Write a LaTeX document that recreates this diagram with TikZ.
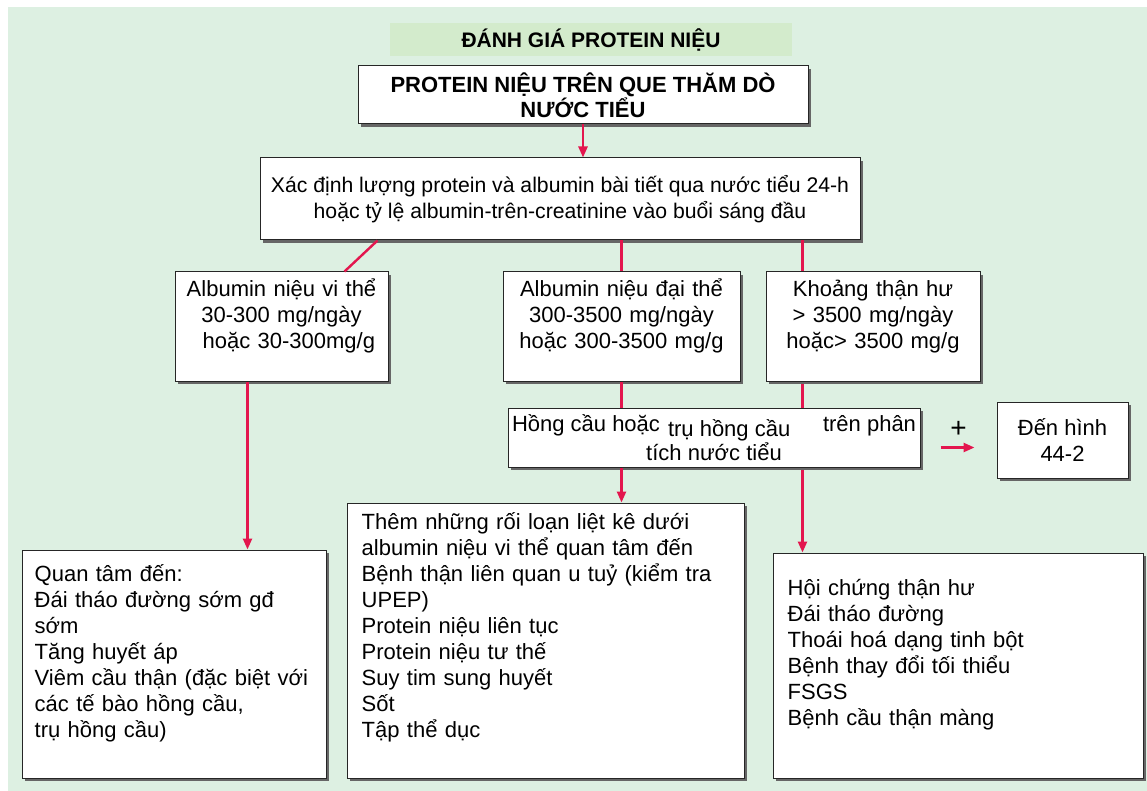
\documentclass[tikz,border=0pt]{standalone}
\usepackage{fontspec}
\setmainfont{Liberation Sans}
\usetikzlibrary{arrows.meta,backgrounds,shadows}
\definecolor{Mint}{HTML}{DDF0E2}
\definecolor{Band}{HTML}{D3EBCC}
\definecolor{Crimson}{HTML}{E3164E}

\begin{document}
\begin{tikzpicture}[
  x=1pt,y=-1pt,
  card/.style={draw=black!85,line width=1pt,fill=white,inner sep=0pt,
    drop shadow={shadow xshift=3pt,shadow yshift=-3pt,fill=black!60,opacity=1}},
  body/.style={font=\fontsize{22}{26}\selectfont,align=center},
  range/.style={body,text width=#1,inner sep=0pt,anchor=base},
  list/.style={font=\fontsize{22}{26}\selectfont,align=left,text width=#1,inner sep=0pt,anchor=base west},
  link/.style={draw=Crimson,line width=2.4pt},
  arrow/.style={link,-{Triangle[length=11pt,width=9pt]}}
]
\useasboundingbox (0,0) rectangle (1147,791);
\begin{scope}[on background layer]
  \fill[Mint] (8,7) rectangle (1147,791);
\end{scope}

% header and first two steps
\node[fill=Band,minimum width=402,minimum height=33,font=\bfseries\fontsize{21}{25}\selectfont] (title) at (591,39.5) {ĐÁNH GIÁ PROTEIN NIỆU};
\node[card,body,minimum width=450,minimum height=58,font=\bfseries\fontsize{22}{25}\selectfont] (dip) at (583,95) {PROTEIN NIỆU TRÊN QUE THĂM DÒ\\NƯỚC TIỂU};
\node[card,body,minimum width=600,minimum height=82,font=\fontsize{21.2}{26}\selectfont] (quant) at (560,199) {Xác định lượng protein và albumin bài tiết qua nước tiểu 24-h\\hoặc tỷ lệ albumin-trên-creatinine vào buổi sáng đầu};

% three ranges
\node[card,minimum width=213,minimum height=109] (micro) at (281.5,326.5) {};
\node[card,minimum width=237,minimum height=109] (macro) at (621.5,326.5) {};
\node[card,minimum width=214,minimum height=109] (nephro) at (873,326.5) {};
\node[range=205] (microtxt) at ([shift={(0,25)}]micro.north) {Albumin niệu vi thể\\30-300 mg/ngày\\\ \ hoặc 30-300mg/g};
\node[range=230] (macrotxt) at ([shift={(0,25)}]macro.north) {Albumin niệu đại thể\\300-3500 mg/ngày\\hoặc 300-3500 mg/g};
\node[range=205] (nephrotxt) at ([shift={(0,25)}]nephro.north) {Khoảng thận hư\\> 3500 mg/ngày\\hoặc> 3500 mg/g};

% urine sediment check
\node[card,body,minimum width=412,minimum height=59] (hem) at (714,437.5) {\hbox to 404pt{Hồng cầu hoặc\hspace{8pt}\raisebox{-5pt}{trụ hồng cầu}\hfill trên phân}\\tích nước tiểu};
\node[card,body,minimum width=131,minimum height=76] (fig) at (1062.5,440) {Đến hình\\44-2};

% outcome lists
\node[card,minimum width=304,minimum height=228] (left) at (174,664) {};
\node[card,minimum width=397,minimum height=275] (mid) at (545.5,640.5) {};
\node[card,minimum width=370,minimum height=225] (right) at (958,665.5) {};
\node[list=290] (lefttxt) at ([shift={(13,32)}]left.north west) {Quan tâm đến:\\Đái tháo đường sớm gđ\\sớm\\Tăng huyết áp\\Viêm cầu thận (đặc biệt với\\các tế bào hồng cầu,\\trụ hồng cầu)};
\node[list=380] (midtxt) at ([shift={(15,27)}]mid.north west) {Thêm những rối loạn liệt kê dưới\\albumin niệu vi thể quan tâm đến\\Bệnh thận liên quan u tuỷ (kiểm tra\\UPEP)\\Protein niệu liên tục\\Protein niệu tư thế\\Suy tim sung huyết\\Sốt\\Tập thể dục};
\node[list=340] (righttxt) at ([shift={(15,43)}]right.north west) {Hội chứng thận hư\\Đái tháo đường\\Thoái hoá dạng tinh bột\\Bệnh thay đổi tối thiểu\\FSGS\\Bệnh cầu thận màng};

\coordinate (microdrop) at ([xshift=73pt]micro.south west);
\coordinate (nephdrop) at ([xshift=37pt]nephro.south west);
\coordinate (plusrow) at ([yshift=-10pt]hem.east);

\draw[arrow] (dip.south) -- (dip.south |- quant.north);
\draw[link] ([xshift=118pt]quant.south west) -- ([xshift=170pt]micro.north west);
\draw[link] (quant.south -| macro.north) -- (macro.north);
\draw[link] (quant.south -| nephdrop) -- (nephdrop |- nephro.north);
\draw[arrow] (microdrop) -- (microdrop |- left.north);
\draw[link] (macro.south) -- (macro.south |- hem.north);
\draw[arrow] (macro.south |- hem.south) -- (macro.south |- mid.north);
\begin{scope}[on background layer]
  \draw[arrow] (nephdrop) -- (nephdrop |- right.north);
\end{scope}
\draw[arrow,shorten <=20pt,shorten >=22pt] (plusrow) -- (plusrow -| fig.west) node[midway,above=5pt,font=\fontsize{28}{28}\selectfont] (plus) {+};
\end{tikzpicture}
\end{document}
